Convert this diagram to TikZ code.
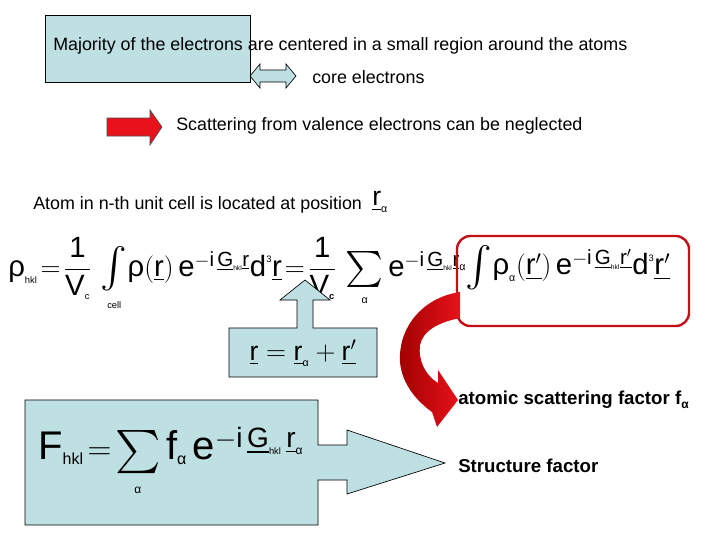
\documentclass[tikz,border=0pt]{standalone}
\usepackage{amsmath}
\usepackage{graphicx}
\usepackage{fontspec}
\setmainfont{Liberation Sans}
\newcommand\tx[1]{\text{#1}}
\newcommand\vr[1]{\underline{\tx{#1}}}
\newcommand\al{\tx{\fontsize{8}{9}\selectfont α}}
\newcommand\bint{\mathop{\vcenter{\hbox{\scalebox{1.45}{$\int$}}}}}
\newcommand\bsum{\mathop{\vcenter{\hbox{\scalebox{1.3}{$\sum$}}}}}
\definecolor{lblue}{HTML}{BFE0E3}
\definecolor{myred}{HTML}{E8121B}
\definecolor{dred}{HTML}{A00000}
\begin{document}
\begin{tikzpicture}[x=0.75pt,y=-0.75pt,
  txt/.style={font=\fontsize{13.4}{15}\selectfont,inner sep=0pt,anchor=west},
  btxt/.style={font=\fontsize{14}{16}\selectfont\bfseries,inner sep=0pt,anchor=west},
  bluefill/.style={fill=lblue,draw=black,line width=0.5pt}]
\useasboundingbox (0,0) rectangle (720,540);
% top box
\draw[bluefill] (45,15) rectangle (250,82);
\node[txt] (maj) at (53,46) {Majority of the electrons are centered in a small region around the atoms};
% double arrow
\draw[bluefill] (250,76) -- (260,64) -- (260,70) -- (286,70) -- (286,64) -- (296,76) -- (286,88) -- (286,82) -- (260,82) -- (260,88) -- cycle;
\node[txt] (core) at (312,77) {core electrons};
% red arrow
\draw[fill=myred,draw=black!70,line width=0.5pt] (107,118) -- (150,118) -- (150,110) -- (162,127) -- (150,145) -- (150,136) -- (107,136) -- cycle;
\node[txt] (scat) at (176,126) {Scattering from valence electrons can be neglected};
\node[txt] (atom) at (33,205) {Atom in n-th unit cell is located at position};
\node[inner sep=0pt,anchor=west,font=\fontsize{20}{22}\selectfont] (ra) at (372,202) {$\vr{r}_{\al}$};
% main formula
\node[inner sep=0pt,anchor=west,font=\fontsize{22}{24}\selectfont] (f1) at (8,274)
 {$\tx{ρ}_{\tx{\scriptsize hkl}}\! =\! \dfrac{\tx{1}}{\tx{V}_{\tx{\scriptsize c}}}\,\bint\limits_{\tx{\scriptsize cell}}\!\tx{ρ}(\vr{r})\,\tx{e}^{-\tx{i}\,\vr{G}_{\tx{\tiny hkl}}\vr{r}}\tx{d}^{\tx{\scriptsize 3}}\vr{r}\! =\! \dfrac{\tx{1}}{\tx{V}_{\tx{\scriptsize\bfseries c}}}\,\bsum\limits_{\al}\tx{e}^{-\tx{i}\,\vr{G}_{\tx{\tiny hkl}}\vr{r}_{\al}}$};
\node[draw=myred!85!black,line width=1.8pt,rounded corners=10pt,minimum width=232pt*0.75,minimum height=90pt*0.75,inner sep=0pt] (box) at (573,281) {};
\node[inner sep=0pt,font=\fontsize{22}{24}\selectfont] (f2) at (568,268)
 {$\bint\!\tx{ρ}_{\al}(\vr{r$'$})\,\tx{e}^{-\tx{i}\,\vr{G}_{\tx{\tiny hkl}}\vr{r$'$}}\tx{d}^{\tx{\scriptsize 3}}\vr{r$'$}$};
% up arrow callout
\draw[bluefill] (229,328) -- (297,328) -- (297,300) -- (280,300) -- (305,280) -- (330,300) -- (313,300) -- (313,328) -- (377,328) -- (377,377) -- (229,377) -- cycle;
\node[inner sep=0pt,font=\fontsize{20}{22}\selectfont] (req) at (303,353) {$\vr{r} = \vr{r}_{\al} + \vr{r$'$}$};
% curved red arrow
\shade[left color=dred,right color=myred]
 (460,292) .. controls (420,298) and (398,330) .. (400,362)
 .. controls (402,385) and (418,402) .. (432,412)
 -- (437,427) -- (458,400) -- (438,370) -- (438,383)
 .. controls (425,375) and (418,360) .. (420,345)
 .. controls (423,330) and (440,322) .. (460,318) -- cycle;
\node[btxt] (asf) at (458,400) {atomic scattering factor f\raisebox{-3pt}{\fontsize{9}{10}\selectfont α}};
% bottom callout
\draw[bluefill] (25,400) -- (318,400) -- (318,445) -- (347,445) -- (347,430) -- (445,463) -- (347,494) -- (347,480) -- (318,480) -- (318,525) -- (25,525) -- cycle;
\node[inner sep=0pt,anchor=west,font=\fontsize{30}{34}\selectfont] (F) at (38,462)
 {$\tx{F}_{\tx{\large hkl}}\! =\! \bsum\limits_{\tx{\small α}}\tx{f}_{\tx{\large α}}\,\tx{e}^{-\tx{i}\,\vr{G}_{\tx{\scriptsize hkl}}\,\vr{r}_{\tx{\small α}}}$};
\node[btxt] (sf) at (458,466) {Structure factor};
\end{tikzpicture}
\end{document}
